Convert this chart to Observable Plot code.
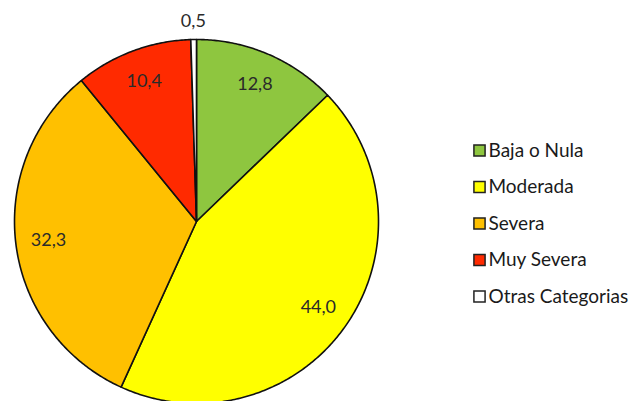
<!DOCTYPE html>
<html>
<head>
<meta charset="utf-8">
<script src="https://cdn.jsdelivr.net/npm/d3@7"></script>
<script src="https://cdn.jsdelivr.net/npm/@observablehq/plot@0.6"></script>
<style>
  html, body { margin: 0; padding: 0; background: #fff; }
  svg { display: block; }
</style>
</head>
<body>
<div id="chart"></div>
<script>
// Data
const categories = ["Baja o Nula", "Moderada", "Severa", "Muy Severa", "Otras Categorias"];
const values = [12.8, 44.0, 32.3, 10.4, 0.5];
const labels = ["12,8", "44,0", "32,3", "10,4", "0,5"];
const colors = ["#8ec63f", "#ffff00", "#ffc000", "#ff2a00", "#ffffff"];

// Layout (pixels)
const W = 631, H = 401;
const cx = 196, cy = 221, R = 182;

const total = d3.sum(values);
let acc = 0;
const slices = categories.map((c, i) => {
  const a0 = acc / total * 2 * Math.PI;
  acc += values[i];
  const a1 = acc / total * 2 * Math.PI;
  return {cat: c, a0, a1, value: values[i], label: labels[i], idx: i};
});

// Build polygon points per slice (x = sin, y = cos, clockwise from top)
const pts = [];
for (const s of slices) {
  pts.push({cat: s.cat, x: 0, y: 0});
  const n = Math.max(2, Math.ceil((s.a1 - s.a0) / 0.01));
  for (let k = 0; k <= n; k++) {
    const a = s.a0 + (s.a1 - s.a0) * k / n;
    pts.push({cat: s.cat, x: Math.sin(a), y: Math.cos(a)});
  }
  pts.push({cat: s.cat, x: 0, y: 0});
}

// Labels at slice mid-angles
const labelPts = slices.map(s => {
  const m = (s.a0 + s.a1) / 2;
  const r = s.value < 2 ? 1.1 : 0.82;
  return {text: s.label, x: r * Math.sin(m), y: r * Math.cos(m)};
});

// Legend (pixel positions converted to data coords)
const toX = px => (px - cx) / R;
const toY = py => (cy - py) / R;
const legend = categories.map((c, i) => ({cat: c, x: toX(479), tx: toX(488), y: toY(150 + i * 36.5)}));

const font = "Lato, 'Open Sans', sans-serif";
const chart = Plot.plot({
  width: W,
  height: H,
  margin: 0,
  style: {background: "#fff"},
  x: {domain: [-1, 1], range: [cx - R, cx + R], axis: null},
  y: {domain: [-1, 1], range: [cy + R, cy - R], axis: null},
  color: {domain: categories, range: colors},
  marks: [
    Plot.line(pts, {x: "x", y: "y", z: "cat", fill: "cat", stroke: "#111", strokeWidth: 1.6, strokeLinejoin: "round"}),
    Plot.text(labelPts, {x: "x", y: "y", text: "text", fill: "#2a2a2a", fontSize: 18, fontFamily: font}),
    Plot.dot(legend, {x: "x", y: "y", fill: "cat", stroke: "#222", strokeWidth: 1.5, symbol: "square", r: 6.3}),
    Plot.text(legend, {x: "tx", y: "y", text: "cat", textAnchor: "start", fill: "#1a1a1a", fontSize: 19, fontFamily: font})
  ]
});
document.getElementById("chart").appendChild(chart);
</script>
</body>
</html>
